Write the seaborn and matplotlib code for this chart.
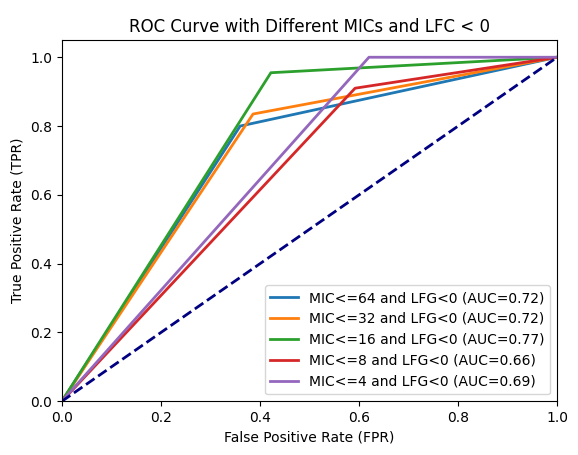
import matplotlib
matplotlib.use("Agg")
import matplotlib.pyplot as plt
import seaborn as sns
import pandas as pd

labels = ["MIC<=64 and LFG<0 (AUC=0.72)", "MIC<=32 and LFG<0 (AUC=0.72)",
          "MIC<=16 and LFG<0 (AUC=0.77)", "MIC<=8 and LFG<0 (AUC=0.66)",
          "MIC<=4 and LFG<0 (AUC=0.69)"]
fpr_mid = [0.36, 0.386, 0.422, 0.592, 0.62]
tpr_mid = [0.80, 0.835, 0.955, 0.91, 1.0]
colors = ["#1f77b4", "#ff7f0e", "#2ca02c", "#d62728", "#9467bd"]

fig, ax = plt.subplots(figsize=(5.78, 4.55), dpi=100)
for lab, fx, ty, c in zip(labels, fpr_mid, tpr_mid, colors):
    df = pd.DataFrame({"fpr": [0, fx, 1], "tpr": [0, ty, 1]})
    sns.lineplot(data=df, x="fpr", y="tpr", ax=ax, color=c, lw=2, label=lab, sort=False, estimator=None)
ax.plot([0, 1], [0, 1], color="navy", lw=2, ls="--")
ax.set_xlim(0, 1)
ax.set_ylim(0, 1.05)
ax.set_xlabel("False Positive Rate (FPR)")
ax.set_ylabel("True Positive Rate (TPR)")
ax.set_title("ROC Curve with Different MICs and LFC < 0")
ax.legend(loc="lower right")
fig.subplots_adjust(left=0.107, right=0.964, bottom=0.118, top=0.912)
fig.savefig("out.png")
